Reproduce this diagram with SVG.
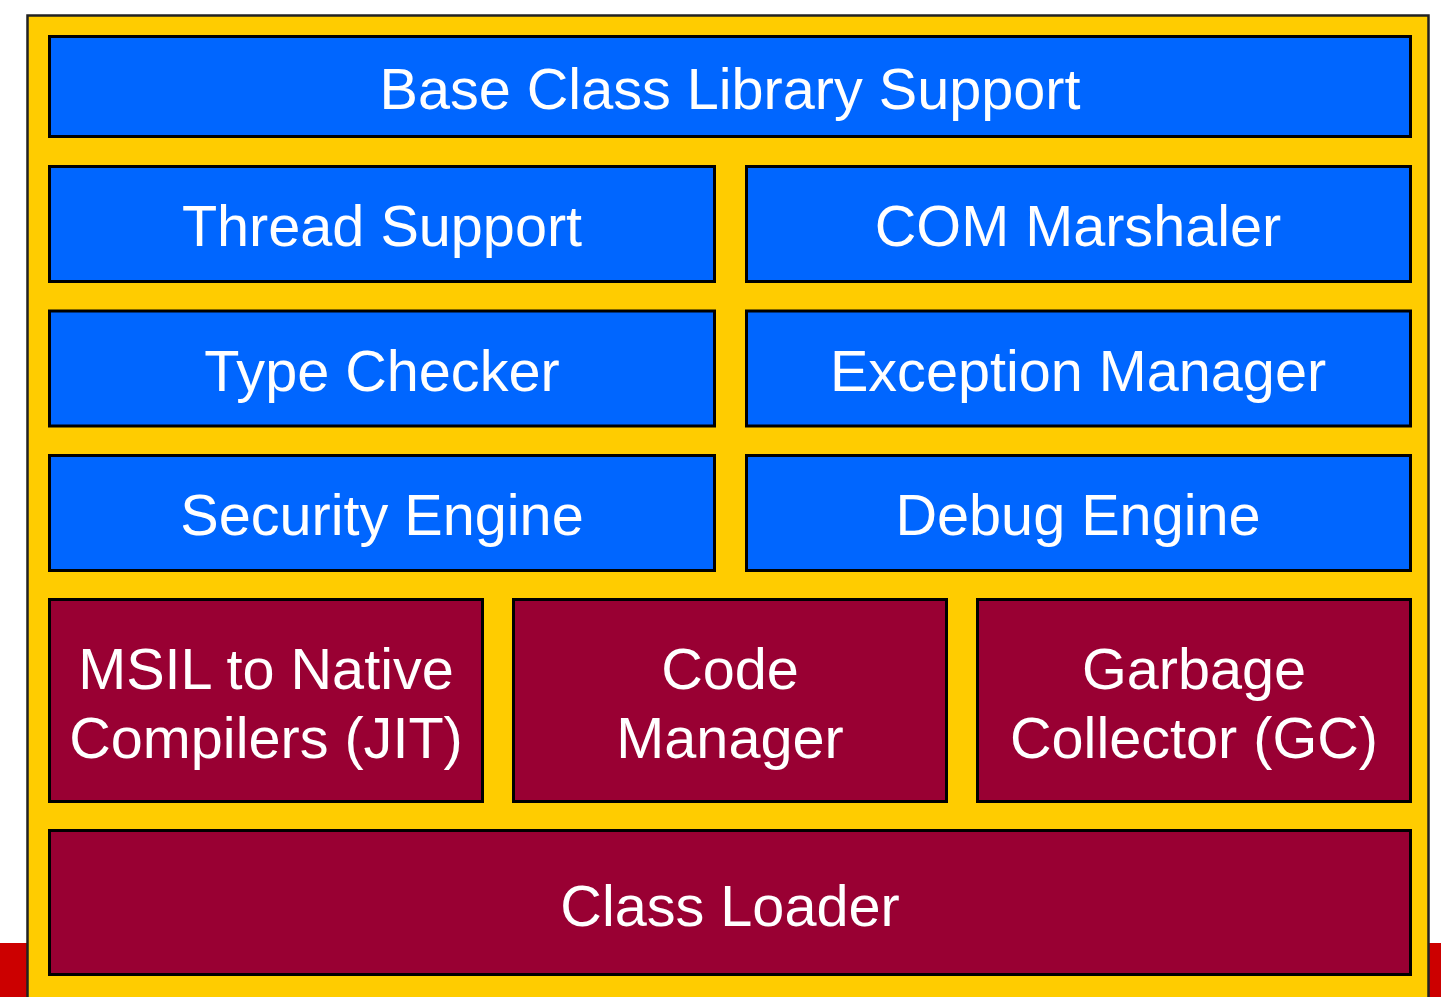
<svg xmlns="http://www.w3.org/2000/svg" width="1441" height="997" viewBox="0 0 1441 997">
<style>
.b{fill:#0066FF;stroke:#000;stroke-width:3}
.r{fill:#990033;stroke:#000;stroke-width:3}
text{font-family:"Liberation Sans",Arial,sans-serif;font-size:57.6px;fill:#fff;text-anchor:middle}
</style>
<rect x="0" y="943" width="1441" height="54" fill="#CC0000"/>
<rect id="frame" x="27.5" y="15.5" width="1401" height="990" fill="#FFCC00" stroke="#222" stroke-width="2.5"/>
<g id="bcl"><rect class="b" x="49.5" y="36.5" width="1361" height="100"/><text x="730" y="109">Base Class Library Support</text></g>
<g id="thread"><rect class="b" x="49.5" y="166.5" width="665" height="115"/><text x="382" y="246">Thread Support</text></g>
<g id="com"><rect class="b" x="746.5" y="166.5" width="664" height="115"/><text x="1078" y="246">COM Marshaler</text></g>
<g id="type"><rect class="b" x="49.5" y="311" width="665" height="115"/><text x="382" y="391">Type Checker</text></g>
<g id="exc"><rect class="b" x="746.5" y="311" width="664" height="115"/><text x="1078" y="391">Exception Manager</text></g>
<g id="sec"><rect class="b" x="49.5" y="455.5" width="665" height="115"/><text x="382" y="535">Security Engine</text></g>
<g id="dbg"><rect class="b" x="746.5" y="455.5" width="664" height="115"/><text x="1078" y="535">Debug Engine</text></g>
<g id="jit"><rect class="r" x="49.5" y="599.5" width="433" height="202"/><text x="266" y="689">MSIL to Native</text><text x="266" y="758">Compilers (JIT)</text></g>
<g id="code"><rect class="r" x="513.5" y="599.5" width="433" height="202"/><text x="730" y="689">Code</text><text x="730" y="758">Manager</text></g>
<g id="gc"><rect class="r" x="977.5" y="599.5" width="433" height="202"/><text x="1194" y="689">Garbage</text><text x="1194" y="758">Collector (GC)</text></g>
<g id="loader"><rect class="r" x="49.5" y="830.5" width="1361" height="144"/><text x="730" y="926">Class Loader</text></g>
<g id="connectors"/>
</svg>
